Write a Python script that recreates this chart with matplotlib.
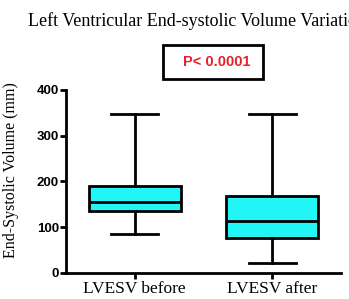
import matplotlib
matplotlib.use("Agg")
import matplotlib.pyplot as plt
from matplotlib.patches import Rectangle

# box summary values
labels = ["LVESV before", "LVESV after"]
whis_low = [84, 21]
q1 = [135, 75]
median = [154, 113]
q3 = [189, 168]
whis_high = [347, 347]

yticks = [0, 100, 200, 300, 400]

stats = []
for i, lab in enumerate(labels):
    stats.append(dict(label=lab, whislo=whis_low[i], q1=q1[i], med=median[i],
                      q3=q3[i], whishi=whis_high[i], fliers=[]))

fig = plt.figure(figsize=(3.49, 2.99), dpi=100)
ax = fig.add_axes([0.189, 0.088, 0.788, 0.611])

lw = 2.0
ax.bxp(stats, positions=[1, 2], widths=0.67, capwidths=0.34, patch_artist=True,
       showfliers=False,
       boxprops=dict(facecolor="#22f5f5", edgecolor="black", linewidth=lw),
       medianprops=dict(color="black", linewidth=lw),
       whiskerprops=dict(color="black", linewidth=lw),
       capprops=dict(color="black", linewidth=lw))

ax.set_xlim(0.5, 2.5)
ax.set_ylim(0, 400)
ax.set_yticks(yticks)
ax.set_yticklabels([str(t) for t in yticks], fontfamily="Liberation Sans",
                   fontweight="bold", fontsize=9.5)
ax.set_xticks([1, 2])
ax.set_xticklabels(labels, fontfamily="Liberation Serif", fontsize=12.5)
ax.tick_params(axis="both", width=lw, length=4, color="black")
ax.tick_params(axis="y", pad=1)
ax.tick_params(axis="x", pad=2)
for s in ["top", "right"]:
    ax.spines[s].set_visible(False)
for s in ["left", "bottom"]:
    ax.spines[s].set_linewidth(lw)
ax.spines["left"].set_bounds(0, 400)

ax.set_ylabel("End-Systolic Volume (mm)", fontfamily="Liberation Serif", fontsize=11.5)
ax.yaxis.set_label_coords(-0.17, 0.56)

fig.text(28 / 349, 1 - 21 / 299, "Left Ventricular End-systolic Volume Variation",
         fontfamily="Liberation Serif", fontsize=13, va="center", ha="left")

# p-value box
fig.patches.append(Rectangle((163 / 349, 1 - 79 / 299), 100 / 349, 34 / 299,
                             transform=fig.transFigure, fill=False,
                             edgecolor="black", linewidth=2))
fig.text(217 / 349, 1 - 62 / 299, "P< 0.0001", color="#e8202a",
         fontfamily="Liberation Sans", fontweight="bold", fontsize=10.5,
         ha="center", va="center")

fig.savefig("out.png", dpi=100)
